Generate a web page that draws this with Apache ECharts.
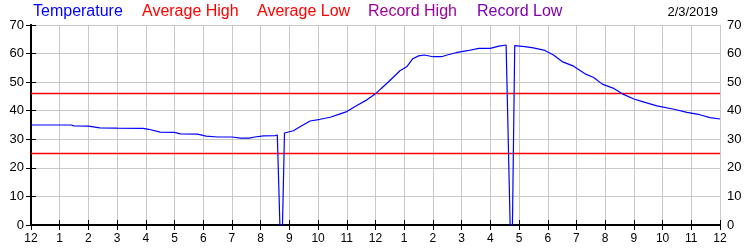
<!DOCTYPE html>
<html><head><meta charset="utf-8">
<script src="https://cdn.jsdelivr.net/npm/echarts@6/dist/echarts.min.js"></script>
<style>html,body{margin:0;padding:0;background:#fff}#c{width:750px;height:250px}</style>
</head><body><div id="c"></div>
<script>
var hours = [0,1.4,1.5,2.0,2.4,3.0,3.9,4.1,4.5,5.0,5.2,5.8,6.1,6.5,7.0,7.3,7.6,7.8,8.1,8.5,8.58,8.67,8.76,8.83,9.14,9.37,9.72,10.07,10.42,10.77,11.0,11.35,11.7,12.0,12.2,12.4,12.7,12.85,13.1,13.3,13.5,13.7,14.0,14.3,14.5,14.8,15.2,15.6,16.0,16.3,16.55,16.61,16.69,16.77,16.85,17.2,17.5,17.9,18.2,18.5,18.9,19.3,19.6,19.9,20.3,20.6,21.0,21.3,21.8,22.4,22.85,23.3,23.65,24.0];
var temps = [35.0,35.0,34.7,34.6,34.0,33.9,33.8,33.5,32.5,32.4,31.9,31.8,31.1,30.8,30.8,30.4,30.4,30.8,31.2,31.3,31.5,0,0,32.2,33.0,34.4,36.4,37.0,37.7,38.9,39.7,41.8,43.8,45.9,47.8,49.6,52.5,54.0,55.5,58.2,59.2,59.5,58.9,58.9,59.5,60.3,61.0,61.8,61.8,62.6,63.0,63.0,0,0,62.8,62.4,62.0,61.1,59.5,57.2,55.6,52.9,51.6,49.3,47.8,45.9,44.1,43.2,41.7,40.5,39.4,38.6,37.6,37.1];
var avgHigh = 46;
var avgLow = 25;
var hourLabels = ['12','1','2','3','4','5','6','7','8','9','10','11','12','1','2','3','4','5','6','7','8','9','10','11','12'];
var legendNames = ['Temperature','Average High','Average Low','Record High','Record Low'];
var legendColors = ['#0000ff','#ff0000','#ff0000','#a000a0','#8000b0'];
var legendX = [33,142,257,368,477];
var dateText = '2/3/2019';

var chart = echarts.init(document.getElementById('c'), null, {renderer:'canvas'});
var tempData = hours.map(function(h,i){return [h,temps[i]];});
var axisFont = {fontFamily:'Liberation Sans, Arial, sans-serif', fontSize:13, color:'#000'};
var graphics = legendNames.map(function(n,i){
  return {type:'text', left:legendX[i], top:4, style:{text:n, fill:legendColors[i], font:'16px "Liberation Sans", Arial, sans-serif'}};
});
graphics.push({type:'text', right:32, top:6, style:{text:dateText, fill:'#000', font:'13px "Liberation Sans", Arial, sans-serif'}});
chart.setOption({
  animation:false,
  backgroundColor:'#fff',
  grid:{left:31,right:30,top:25,bottom:25,containLabel:false},
  graphic:graphics,
  xAxis:[{
    type:'value', min:0, max:24, interval:1, position:'bottom',
    axisLine:{show:true,lineStyle:{color:'#000',width:2}},
    axisTick:{show:true,inside:true,length:5,lineStyle:{color:'#000'}},
    axisLabel:Object.assign({margin:8,formatter:function(v){return hourLabels[Math.round(v)];}}, axisFont, {fontSize:12}),
    splitLine:{show:true,lineStyle:{color:'#c8c8c8',width:1}}
  },{
    type:'value', min:0, max:24, interval:1, position:'top',
    axisLine:{show:true,lineStyle:{color:'#000',width:2}},
    axisTick:{show:true,inside:true,length:5,lineStyle:{color:'#000'}},
    axisLabel:{show:false}, splitLine:{show:false}
  }],
  yAxis:[{
    type:'value', min:0, max:70, interval:10, position:'left',
    axisLine:{show:true,lineStyle:{color:'#000',width:2}},
    axisTick:{show:true,inside:true,length:5,lineStyle:{color:'#000'}},
    axisLabel:Object.assign({margin:7}, axisFont),
    splitLine:{show:true,lineStyle:{color:'#c8c8c8',width:1}}
  },{
    type:'value', min:0, max:70, interval:10, position:'right',
    axisLine:{show:true,lineStyle:{color:'#000',width:2}},
    axisTick:{show:true,inside:true,length:5,lineStyle:{color:'#000'}},
    axisLabel:Object.assign({margin:7}, axisFont),
    splitLine:{show:false}
  }],
  series:[
    {name:'Average High',type:'line',data:[[0,avgHigh],[24,avgHigh]],symbol:'none',lineStyle:{color:'#ff0000',width:1.5},z:2},
    {name:'Average Low',type:'line',data:[[0,avgLow],[24,avgLow]],symbol:'none',lineStyle:{color:'#ff0000',width:1.5},z:2},
    {name:'Temperature',type:'line',data:tempData,symbol:'none',lineStyle:{color:'#0000ff',width:1.2},z:3}
  ]
});
</script></body></html>
